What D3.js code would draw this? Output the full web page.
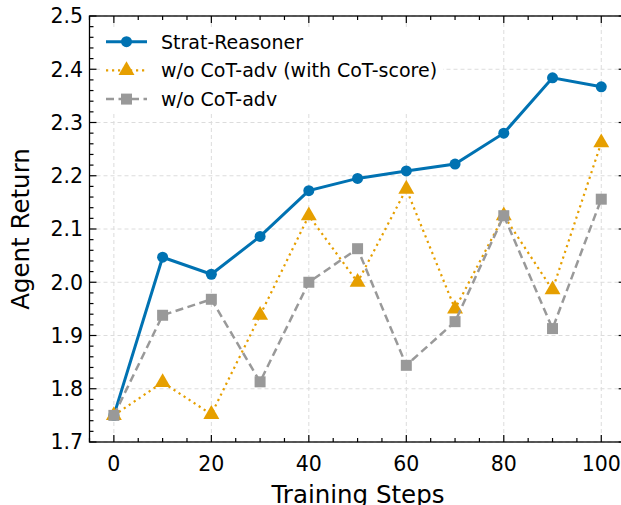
<!DOCTYPE html>
<html>
<head>
<meta charset="utf-8">
<script src="https://cdn.jsdelivr.net/npm/d3@7"></script>
<style>
  body { margin: 0; background: #fff; }
  svg { display: block; font-family: "DejaVu Sans", sans-serif; }
</style>
</head>
<body>
<div id="chart"></div>
<script>
var steps = [0, 10, 20, 30, 40, 50, 60, 70, 80, 90, 100];
var strat = [1.75, 2.047, 2.015, 2.086, 2.172, 2.195, 2.209, 2.222, 2.280, 2.384, 2.367];
var noAdvScore = [1.75, 1.812, 1.752, 1.938, 2.125, 2.0, 2.175, 1.950, 2.125, 1.986, 2.262];
var noAdv = [1.75, 1.938, 1.968, 1.813, 2.0, 2.063, 1.844, 1.926, 2.125, 1.913, 2.156];
var xTicks = [0, 20, 40, 60, 80, 100];
var yTicks = [1.7, 1.8, 1.9, 2.0, 2.1, 2.2, 2.3, 2.4, 2.5];

var width = 621, height = 505;
var plotLeft = 89.5, plotTop = 16, plotBottom = 442;

var svg = d3.select("#chart").append("svg")
  .attr("width", width).attr("height", height)
  .attr("viewBox", [0, 0, width, height]);

var x = d3.scaleLinear().domain([-5, 105]).range([plotLeft, plotLeft + 110 * 4.874]);
var y = d3.scaleLinear().domain([1.7, 2.5]).range([plotBottom, plotTop]);
var plotRight = x(105);

// grid
var grid = svg.append("g").attr("stroke", "#dcdcdc").attr("stroke-width", 1).attr("stroke-dasharray", "4,3");
grid.selectAll(".gx").data(xTicks).enter().append("line")
  .attr("x1", d => x(d)).attr("x2", d => x(d)).attr("y1", plotTop).attr("y2", plotBottom);
grid.selectAll(".gy").data(yTicks).enter().append("line")
  .attr("x1", plotLeft).attr("x2", plotRight).attr("y1", d => y(d)).attr("y2", d => y(d));

// ticks, all pointing inward
var minorX = d3.range(-5, 106, 5).filter(d => d % 20 != 0);
var minorY = d3.range(1.7, 2.501, 0.02).filter(d => Math.abs(Math.round(d * 10) - d * 10) > 0.01);
var ticks = svg.append("g").attr("stroke", "#000").attr("stroke-width", 1.2);
function tickX(vals, len) {
  vals.forEach(function(v) {
    ticks.append("line").attr("x1", x(v)).attr("x2", x(v)).attr("y1", plotBottom).attr("y2", plotBottom - len);
    ticks.append("line").attr("x1", x(v)).attr("x2", x(v)).attr("y1", plotTop).attr("y2", plotTop + len);
  });
}
function tickY(vals, len) {
  vals.forEach(function(v) {
    ticks.append("line").attr("y1", y(v)).attr("y2", y(v)).attr("x1", plotLeft).attr("x2", plotLeft + len);
    ticks.append("line").attr("y1", y(v)).attr("y2", y(v)).attr("x1", plotRight).attr("x2", plotRight - len);
  });
}
tickX(xTicks, 7); tickX(minorX, 4);
tickY(yTicks, 7); tickY(minorY, 4);

var series = [
  {name: "Strat-Reasoner", values: strat, color: "#0072B2", dash: null, width: 3, marker: "circle"},
  {name: "w/o CoT-adv (with CoT-score)", values: noAdvScore, color: "#E69F00", dash: "2.2,3.8", width: 2.2, marker: "triangle"},
  {name: "w/o CoT-adv", values: noAdv, color: "#999999", dash: "8,4.5", width: 2.5, marker: "square"}
];

var line = d3.line().x((d, i) => x(steps[i])).y(d => y(d));
var symSize = {circle: 95, triangle: 110, square: 121};
function symbolType(m) {
  return m == "circle" ? d3.symbolCircle : m == "triangle" ? d3.symbolTriangle : d3.symbolSquare;
}

// legend box sits under the data lines
var lg = svg.append("g");
lg.append("rect").attr("x", 100).attr("y", 28).attr("width", 343).attr("height", 83).attr("fill", "#fff");

// plotted in order, so the gray series ends up on top
series.forEach(function(s) {
  var g = svg.append("g");
  g.append("path").datum(s.values).attr("d", line)
    .attr("fill", "none").attr("stroke", s.color).attr("stroke-width", s.width)
    .attr("stroke-dasharray", s.dash);
  g.selectAll("path.m").data(s.values).enter().append("path").attr("class", "m")
    .attr("transform", (d, i) => "translate(" + x(steps[i]) + "," + y(d) + ")")
    .attr("d", d3.symbol().type(symbolType(s.marker)).size(symSize[s.marker]))
    .attr("fill", s.color);
});

series.forEach(function(s, i) {
  var cy = 41.7 + i * 28.7;
  lg.append("line").attr("x1", 106).attr("x2", 147).attr("y1", cy).attr("y2", cy)
    .attr("stroke", s.color).attr("stroke-width", s.width).attr("stroke-dasharray", s.dash);
  lg.append("path").attr("transform", "translate(126.5," + cy + ")")
    .attr("d", d3.symbol().type(symbolType(s.marker)).size(symSize[s.marker])).attr("fill", s.color);
  lg.append("text").attr("x", 161).attr("y", cy + 7).attr("font-size", 19).text(s.name);
});

svg.append("rect").attr("x", plotLeft).attr("y", plotTop).attr("width", plotRight - plotLeft).attr("height", plotBottom - plotTop)
  .attr("fill", "none").attr("stroke", "#000").attr("stroke-width", 1.3);

// tick labels
svg.append("g").selectAll("text").data(xTicks).enter().append("text")
  .attr("x", d => x(d)).attr("y", 471).attr("text-anchor", "middle")
  .attr("font-size", 20.5).text(d => d);
svg.append("g").selectAll("text").data(yTicks).enter().append("text")
  .attr("x", 83).attr("y", d => y(d) + 7.3).attr("text-anchor", "end")
  .attr("font-size", 20.5).text(d => d.toFixed(1));

// axis titles
svg.append("text").attr("x", 358).attr("y", 503).attr("text-anchor", "middle")
  .attr("font-size", 24.5).text("Training Steps");
svg.append("text").attr("transform", "translate(29," + ((plotTop + plotBottom) / 2) + ") rotate(-90)")
  .attr("text-anchor", "middle").attr("font-size", 24.5).text("Agent Return");
</script>
</body>
</html>
